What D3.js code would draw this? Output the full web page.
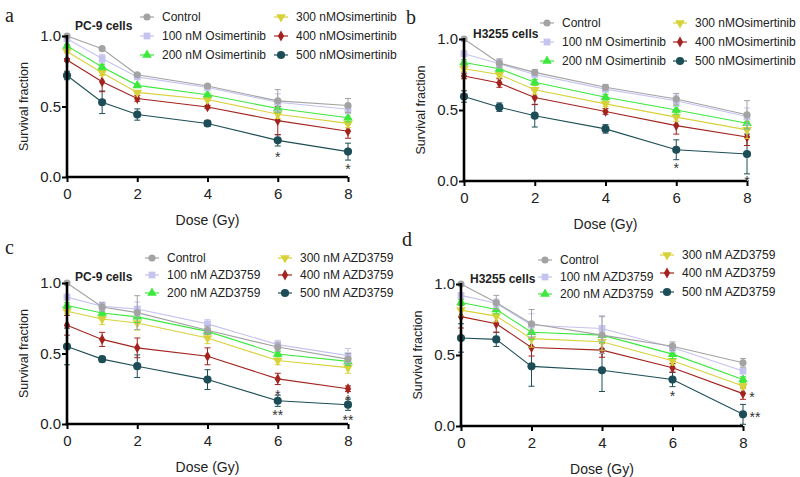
<!DOCTYPE html>
<html><head><meta charset="utf-8">
<script src="https://cdn.jsdelivr.net/npm/d3@7"></script>
<style>body{margin:0;background:#fff}svg{display:block}</style>
</head><body>
<svg id="c" width="800" height="477"></svg>
<script>
const doses = [0,1,2,4,6,8];
const xTicks = [0,2,4,6,8];
const yTicks = [0,0.5,1.0];
const yTickLabels = ["0.0","0.5","1.0"];
const namesOsi = ["Control","100 nM Osimertinib","200 nM Osimertinib","300 nMOsimertinib","400 nMOsimertinib","500 nMOsimertinib"];
const namesAzd = ["Control","100 nM AZD3759","200 nM AZD3759","300 nM AZD3759","400 nM AZD3759","500 nM AZD3759"];
const panelLetters = ["a","b","c","d"];
const cellLines = ["PC-9 cells","H3255 cells","PC-9 cells","H3255 cells"];

// Panel a (PC-9, Osimertinib)
const aVals = [
  [1.00,0.91,0.725,0.645,0.54,0.507],
  [0.98,0.84,0.71,0.635,0.53,0.48],
  [0.93,0.78,0.65,0.583,0.486,0.42],
  [0.89,0.74,0.60,0.55,0.445,0.38],
  [0.83,0.675,0.557,0.497,0.40,0.325],
  [0.72,0.53,0.443,0.38,0.26,0.18]];
const aErr = [
  [0.01,0.01,0.01,0.01,0.08,0.05],
  [0.01,0.03,0.01,0.01,0.06,0.03],
  [0.01,0.02,0.01,0.01,0.03,0.03],
  [0.01,0.02,0.01,0.01,0.03,0.03],
  [0.01,0.07,0.02,0.01,0.10,0.05],
  [0.03,0.08,0.04,0.02,0.04,0.06]];
// Panel b (H3255, Osimertinib)
const bVals = [
  [1.00,0.83,0.765,0.66,0.577,0.466],
  [0.896,0.826,0.75,0.647,0.565,0.454],
  [0.835,0.79,0.695,0.59,0.50,0.407],
  [0.79,0.75,0.642,0.543,0.45,0.36],
  [0.74,0.69,0.588,0.49,0.39,0.31],
  [0.595,0.52,0.46,0.367,0.22,0.19]];
const bErr = [
  [0.00,0.03,0.02,0.02,0.04,0.10],
  [0.02,0.03,0.02,0.02,0.04,0.06],
  [0.02,0.02,0.02,0.02,0.03,0.04],
  [0.02,0.02,0.03,0.02,0.03,0.06],
  [0.02,0.03,0.05,0.02,0.06,0.06],
  [0.04,0.03,0.08,0.03,0.07,0.14]];
// Panel c (PC-9, AZD3759)
const cVals = [
  [1.00,0.83,0.79,0.665,0.546,0.46],
  [0.90,0.835,0.815,0.71,0.563,0.485],
  [0.84,0.787,0.76,0.657,0.497,0.444],
  [0.80,0.745,0.716,0.61,0.45,0.40],
  [0.70,0.60,0.54,0.48,0.32,0.25],
  [0.55,0.46,0.41,0.315,0.165,0.137]];
const cErr = [
  [0.01,0.03,0.12,0.03,0.03,0.04],
  [0.02,0.03,0.05,0.03,0.03,0.05],
  [0.02,0.02,0.04,0.02,0.02,0.03],
  [0.02,0.04,0.05,0.04,0.03,0.04],
  [0.07,0.05,0.07,0.06,0.04,0.02],
  [0.13,0.02,0.08,0.07,0.04,0.04]];
// Panel d (H3255, AZD3759)
const dVals = [
  [1.00,0.87,0.72,0.64,0.562,0.445],
  [0.92,0.864,0.71,0.687,0.553,0.388],
  [0.87,0.82,0.66,0.64,0.506,0.327],
  [0.816,0.774,0.615,0.593,0.46,0.282],
  [0.77,0.72,0.553,0.534,0.41,0.228],
  [0.62,0.61,0.42,0.393,0.327,0.082]];
const dErr = [
  [0.01,0.05,0.10,0.13,0.03,0.03],
  [0.02,0.03,0.08,0.09,0.03,0.02],
  [0.02,0.03,0.05,0.05,0.03,0.02],
  [0.04,0.04,0.06,0.06,0.03,0.02],
  [0.08,0.06,0.06,0.05,0.03,0.04],
  [0.10,0.05,0.14,0.15,0.05,0.07]];

// significance marks: [dose, centre value, text, x offset px]
const aSig = [[6,0.163,"*",0],[8,0.078,"*",0]];
const bSig = [[6,0.113,"*",0],[8,0.02,"*",0]];
const cSig = [[6,0.227,"*",0],[6,0.085,"**",0],[8,0.19,"*",0],[8,0.05,"**",0]];
const dSig = [[6,0.232,"*",0],[8,0.225,"*",9],[8,0.085,"**",12]];

const colors = ["#a3a3a3","#c5c3f0","#3ee83e","#d8d23a","#a3231f","#1d4e57"];
const shapes = [d3.symbolCircle,d3.symbolSquare,d3.symbolTriangle,"tri-down",d3.symbolDiamond,d3.symbolCircle];
const sizes = [40,46,40,40,34,52];

const layout = [
  {x0:67,x1:348,yTop:36,yBot:177, lx:[140,274], ly:[17,36,55], ly2:[17,36,55], tx:75,ty:30, lab:[5,22], names:namesOsi, vals:aVals, err:aErr, sig:aSig},
  {x0:464,x1:747,yTop:39,yBot:181, lx:[540,673], ly:[23,42,61], ly2:[23,42,61], tx:473,ty:38, lab:[406,24], names:namesOsi, vals:bVals, err:bErr, sig:bSig},
  {x0:67,x1:348,yTop:283,yBot:424, lx:[145,278], ly:[258,275,293], ly2:[258,275,293], tx:75,ty:281, lab:[5,254], names:namesAzd, vals:cVals, err:cErr, sig:cSig},
  {x0:461,x1:743,yTop:284,yBot:426, lx:[538,660], ly:[260,277,294], ly2:[255,273,292], tx:470,ty:283, lab:[402,246], names:namesAzd, vals:dVals, err:dErr, sig:dSig}
];

const svg = d3.select("#c");
const font = "'Liberation Sans', Arial, sans-serif";

function symPath(i){
  if (shapes[i]==="tri-down") return d3.symbol().type(d3.symbolTriangle).size(sizes[i])();
  return d3.symbol().type(shapes[i]).size(sizes[i])();
}
function drawMarker(g,i,x,y){
  return g.append("path").attr("d",symPath(i)).attr("fill",colors[i])
    .attr("transform",`translate(${x},${y})` + (shapes[i]==="tri-down"?" rotate(180)":""));
}

layout.forEach((L,pi)=>{
  const g = svg.append("g");
  const x = d3.scaleLinear().domain([0,8]).range([L.x0,L.x1]);
  const y = d3.scaleLinear().domain([0,1]).range([L.yBot,L.yTop]);

  for (let s=5;s>=0;s--){
    const pts = doses.map((d,k)=>({d, v:L.vals[s][k], e:L.err[s][k]}));
    const sg = g.append("g");
    pts.forEach(p=>{
      if (p.e<=0) return;
      const cx=x(p.d), y1=y(p.v+p.e), y2=y(Math.max(0,p.v-p.e));
      sg.append("line").attr("x1",cx).attr("x2",cx).attr("y1",y1).attr("y2",y2).attr("stroke",colors[s]).attr("stroke-width",1);
      [y1,y2].forEach(yy=>sg.append("line").attr("x1",cx-3).attr("x2",cx+3).attr("y1",yy).attr("y2",yy).attr("stroke",colors[s]).attr("stroke-width",1));
    });
    sg.append("path").datum(pts).attr("fill","none").attr("stroke",colors[s]).attr("stroke-width",1.1)
      .attr("d",d3.line().x(p=>x(p.d)).y(p=>y(p.v)));
    pts.forEach(p=>drawMarker(sg,s,x(p.d),y(p.v)));
  }

  const xa = g.append("g").attr("transform",`translate(0,${L.yBot})`)
    .call(d3.axisBottom(x).tickValues(xTicks).tickSize(5).tickFormat(d3.format("d")));
  const ya = g.append("g").attr("transform",`translate(${L.x0},0)`)
    .call(d3.axisLeft(y).tickValues(yTicks).tickSize(5).tickFormat((d,i)=>yTickLabels[i]));
  [xa,ya].forEach(a=>{
    a.select(".domain").attr("stroke","#000").attr("stroke-width",2.6);
    a.selectAll(".tick line").attr("stroke","#000").attr("stroke-width",2);
    a.selectAll("text").attr("font-family",font).attr("font-size",15).attr("fill","#222");
  });
  xa.select(".domain").attr("d",`M${L.x0-1.3},0H${L.x1}`);
  ya.select(".domain").attr("d",`M0,${L.yBot}V${L.yTop-1}`);
  xa.selectAll(".tick text").attr("dy","0.9em");
  ya.selectAll(".tick text").attr("x",-6);

  g.append("text").attr("x",(L.x0+L.x1)/2).attr("y",L.yBot+48).attr("text-anchor","middle")
    .attr("font-family",font).attr("font-size",14).attr("fill","#222").text("Dose (Gy)");
  g.append("text").attr("transform",`translate(${L.x0-39},${(L.yTop+L.yBot)/2}) rotate(-90)`)
    .attr("text-anchor","middle").attr("font-family",font).attr("font-size",12.5).attr("fill","#222").text("Survival fraction");

  L.sig.forEach(sg=>{
    g.append("text").attr("x",x(sg[0])+sg[3]).attr("y",y(sg[1])+8).attr("text-anchor","middle")
      .attr("font-family",font).attr("font-size",14).attr("fill","#333").text(sg[2]);
  });

  g.append("text").attr("x",L.tx).attr("y",L.ty).attr("font-family",font).attr("font-weight","bold")
    .attr("font-size",12).attr("fill","#222").text(cellLines[pi]);

  g.append("text").attr("x",L.lab[0]).attr("y",L.lab[1]).attr("font-family","'Liberation Serif', 'Times New Roman', serif")
    .attr("font-size",20).attr("fill","#222").text(panelLetters[pi]);

  L.names.forEach((n,i)=>{
    const col = i<3?0:1, row=i%3;
    const lx = L.lx[col], ly = (col===0?L.ly:L.ly2)[row];
    const lg = g.append("g");
    lg.append("line").attr("x1",lx).attr("x2",lx+14).attr("y1",ly).attr("y2",ly).attr("stroke",colors[i]).attr("stroke-width",1.2);
    drawMarker(lg,i,lx+7,ly);
    lg.append("text").attr("x",lx+22).attr("y",ly).attr("dy","0.35em").attr("font-family",font)
      .attr("font-size",12).attr("fill","#222").text(n);
  });
});
</script>
</body></html>
